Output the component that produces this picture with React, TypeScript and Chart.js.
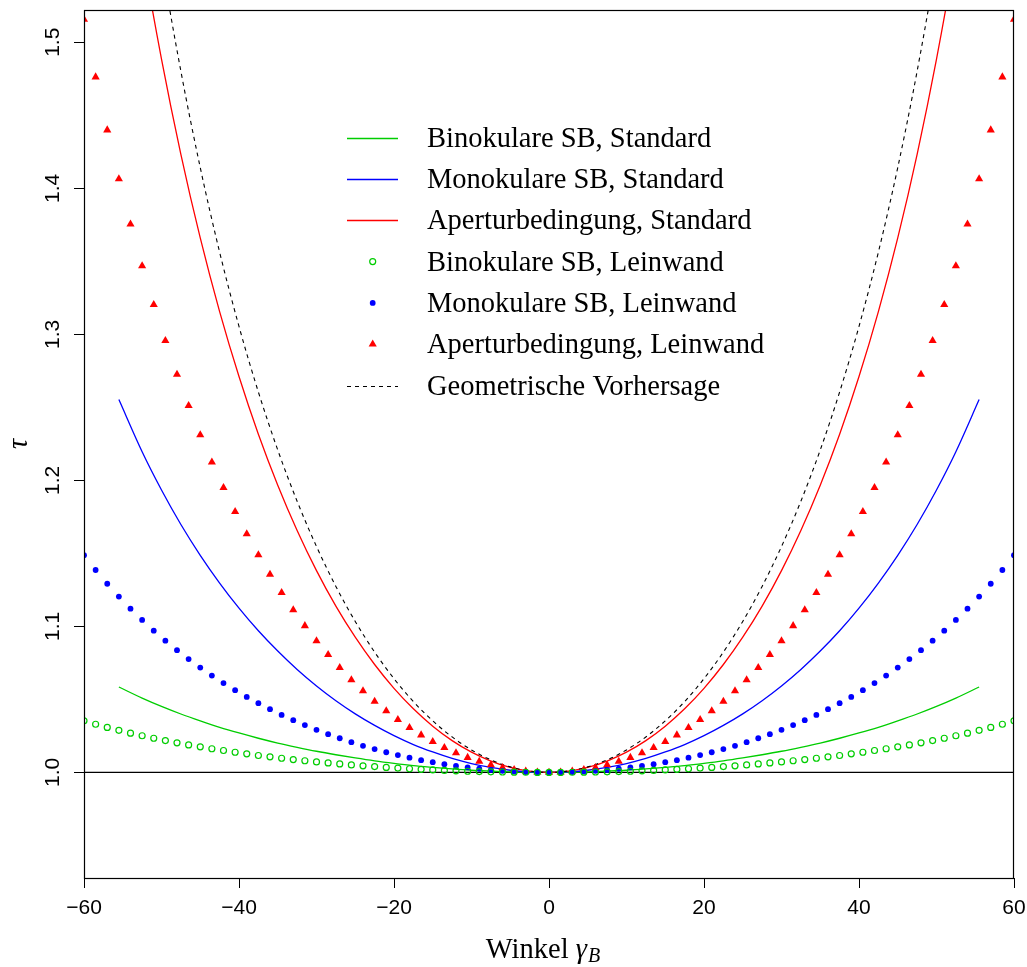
import React, { useEffect, useRef } from 'react';
import { Chart, registerables } from 'chart.js';

Chart.register(...registerables);

// ---------- data ----------
const leinwandX = [
  -60, -58.5, -57, -55.5, -54, -52.5, -51, -49.5, -48, -46.5, -45, -43.5, -42, -40.5, -39, -37.5, -36, -34.5, -33, -31.5,
  -30, -28.5, -27, -25.5, -24, -22.5, -21, -19.5, -18, -16.5, -15, -13.5, -12, -10.5, -9, -7.5, -6, -4.5, -3, -1.5,
  0,
  1.5, 3, 4.5, 6, 7.5, 9, 10.5, 12, 13.5, 15, 16.5, 18, 19.5, 21, 22.5, 24, 25.5, 27, 28.5, 30,
  31.5, 33, 34.5, 36, 37.5, 39, 40.5, 42, 43.5, 45, 46.5, 48, 49.5, 51, 52.5, 54, 55.5, 57, 58.5, 60,
];

const aperturLeinwand = [
  1.5157, 1.4762, 1.4399, 1.4064, 1.3755, 1.3469, 1.3203, 1.2956, 1.2726, 1.2512, 1.2311, 1.2124, 1.195, 1.1786, 1.1633, 1.149, 1.1356, 1.1231, 1.1113, 1.1004,
  1.0901, 1.0806, 1.0717, 1.0634, 1.0558, 1.0486, 1.0421, 1.0361, 1.0306, 1.0256, 1.021, 1.017, 1.0133, 1.0102, 1.0075, 1.0052, 1.0033, 1.0019, 1.0008, 1.0002,
  1.0,
  1.0002, 1.0008, 1.0019, 1.0033, 1.0052, 1.0075, 1.0102, 1.0133, 1.017, 1.021, 1.0256, 1.0306, 1.0361, 1.0421, 1.0486, 1.0558, 1.0634, 1.0717, 1.0806, 1.0901,
  1.1004, 1.1113, 1.1231, 1.1356, 1.149, 1.1633, 1.1786, 1.195, 1.2124, 1.2311, 1.2512, 1.2726, 1.2956, 1.3203, 1.3469, 1.3755, 1.4064, 1.4399, 1.4762, 1.5157,
];

const monoLeinwand = [
  1.1487, 1.1386, 1.1292, 1.1204, 1.1121, 1.1044, 1.0971, 1.0902, 1.0837, 1.0776, 1.0718, 1.0663, 1.0612, 1.0563, 1.0517, 1.0474, 1.0433, 1.0394, 1.0358, 1.0324,
  1.0292, 1.0262, 1.0234, 1.0207, 1.0182, 1.016, 1.0138, 1.0119, 1.0101, 1.0084, 1.007, 1.0056, 1.0044, 1.0034, 1.0025, 1.0017, 1.0011, 1.0006, 1.0003, 1.0001,
  1.0,
  1.0001, 1.0003, 1.0006, 1.0011, 1.0017, 1.0025, 1.0034, 1.0044, 1.0056, 1.007, 1.0084, 1.0101, 1.0119, 1.0138, 1.016, 1.0182, 1.0207, 1.0234, 1.0262, 1.0292,
  1.0324, 1.0358, 1.0394, 1.0433, 1.0474, 1.0517, 1.0563, 1.0612, 1.0663, 1.0718, 1.0776, 1.0837, 1.0902, 1.0971, 1.1044, 1.1121, 1.1204, 1.1292, 1.1386, 1.1487,
];

const binoLeinwand = [
  1.0353, 1.033, 1.0308, 1.0288, 1.0269, 1.0251, 1.0234, 1.0218, 1.0203, 1.0188, 1.0175, 1.0162, 1.015, 1.0138, 1.0127, 1.0116, 1.0107, 1.0097, 1.0088, 1.008,
  1.0072, 1.0065, 1.0058, 1.0051, 1.0045, 1.004, 1.0034, 1.003, 1.0025, 1.0021, 1.0017, 1.0014, 1.0011, 1.0008, 1.0006, 1.0004, 1.0003, 1.0002, 1.0001, 1.0,
  1.0,
  1.0, 1.0001, 1.0002, 1.0003, 1.0004, 1.0006, 1.0008, 1.0011, 1.0014, 1.0017, 1.0021, 1.0025, 1.003, 1.0034, 1.004, 1.0045, 1.0051, 1.0058, 1.0065, 1.0072,
  1.008, 1.0088, 1.0097, 1.0107, 1.0116, 1.0127, 1.0138, 1.015, 1.0162, 1.0175, 1.0188, 1.0203, 1.0218, 1.0234, 1.0251, 1.0269, 1.0288, 1.0308, 1.033, 1.0353,
];

const standardX = [
  -55.5, -52.5, -50, -47.5, -45, -42.5, -40, -37.5, -35, -32.5, -30, -27.5, -25, -22.5, -20, -17.5, -15, -12.5, -10, -7.5, -5, -2.5,
  0,
  2.5, 5, 7.5, 10, 12.5, 15, 17.5, 20, 22.5, 25, 27.5, 30, 32.5, 35, 37.5, 40, 42.5, 45, 47.5, 50, 52.5, 55.5,
];

const binoStandard = [
  1.0585, 1.0509, 1.0452, 1.04, 1.0353, 1.0309, 1.027, 1.0234, 1.0201, 1.0172, 1.0145, 1.0121, 1.0099, 1.0079, 1.0062, 1.0047, 1.0035, 1.0024, 1.0015, 1.0009, 1.0004, 1.0001,
  1.0,
  1.0001, 1.0004, 1.0009, 1.0015, 1.0024, 1.0035, 1.0047, 1.0062, 1.0079, 1.0099, 1.0121, 1.0145, 1.0172, 1.0201, 1.0234, 1.027, 1.0309, 1.0353, 1.04, 1.0452, 1.0509, 1.0585,
];

const monoStandard = [
  1.2553, 1.2196, 1.1934, 1.1698, 1.1487, 1.1297, 1.1125, 1.097, 1.0831, 1.0705, 1.0592, 1.0491, 1.0401, 1.0322, 1.0252, 1.0191, 1.014, 1.0096, 1.0061, 1.0034, 1.0015, 1.0004,
  1.0,
  1.0004, 1.0015, 1.0034, 1.0061, 1.0096, 1.014, 1.0191, 1.0252, 1.0322, 1.0401, 1.0491, 1.0592, 1.0705, 1.0831, 1.097, 1.1125, 1.1297, 1.1487, 1.1698, 1.1934, 1.2196, 1.2553,
];

const aperturStandard = [
  1.668, 1.5631, 1.4885, 1.4233, 1.366, 1.3156, 1.2711, 1.2316, 1.1967, 1.1657, 1.1382, 1.1139, 1.0926, 1.0739, 1.0576, 1.0436, 1.0317, 1.0218, 1.0139, 1.0078, 1.0034, 1.0009,
  1.0,
  1.0009, 1.0034, 1.0078, 1.0139, 1.0218, 1.0317, 1.0436, 1.0576, 1.0739, 1.0926, 1.1139, 1.1382, 1.1657, 1.1967, 1.2316, 1.2711, 1.3156, 1.366, 1.4233, 1.4885, 1.5631, 1.668,
];

const geometrisch = [
  1.7655, 1.6427, 1.5557, 1.4802, 1.4142, 1.3563, 1.3054, 1.2605, 1.2208, 1.1857, 1.1547, 1.1274, 1.1034, 1.0824, 1.0642, 1.0485, 1.0353, 1.0243, 1.0154, 1.0086, 1.0038, 1.001,
  1.0,
  1.001, 1.0038, 1.0086, 1.0154, 1.0243, 1.0353, 1.0485, 1.0642, 1.0824, 1.1034, 1.1274, 1.1547, 1.1857, 1.2208, 1.2605, 1.3054, 1.3563, 1.4142, 1.4802, 1.5557, 1.6427, 1.7655,
];

const referenceX = [-60, 60];
const referenceY = [1, 1];

const seriesLabels = [
  'Binokulare SB, Standard',
  'Monokulare SB, Standard',
  'Aperturbedingung, Standard',
  'Binokulare SB, Leinwand',
  'Monokulare SB, Leinwand',
  'Aperturbedingung, Leinwand',
  'Geometrische Vorhersage',
];

const xTicks = [-60, -40, -20, 0, 20, 40, 60];
const yTicks = [1.0, 1.1, 1.2, 1.3, 1.4, 1.5];
const xTitleWord = 'Winkel';
const xTitleSymbol = 'γ';
const xTitleSub = 'B';
const yTitle = 'τ';

// ---------- styles ----------
const GREEN = '#00CD00';
const BLUE = '#0000FF';
const RED = '#FF0000';
const SERIF = '"Liberation Serif", "Times New Roman", serif';
const SANS = '"Liberation Sans", Arial, Helvetica, sans-serif';
const TEXT_SIZE = 28.5;

const pts = (xs: number[], ys: number[]) => xs.map((x, i) => ({ x, y: ys[i] }));

const legendPlugin = {
  id: 'customLegend',
  afterDatasetsDraw(chart: any) {
    const ctx = chart.ctx;
    const rowY0 = 137.7;
    const rowStep = 41.3;
    const lineX0 = 347;
    const lineX1 = 398;
    const symX = 372.7;
    const textX = 427;
    ctx.save();
    chart.data.datasets.forEach((ds: any, i: number) => {
      if (!ds.label) return;
      const y = rowY0 + rowStep * i;
      ctx.save();
      if (ds.showLine !== false) {
        ctx.beginPath();
        ctx.strokeStyle = ds.borderColor;
        ctx.lineWidth = ds.borderWidth;
        ctx.setLineDash(ds.borderDash || []);
        ctx.moveTo(lineX0, Math.round(y) + 0.5);
        ctx.lineTo(lineX1, Math.round(y) + 0.5);
        ctx.stroke();
      } else {
        const r = ds.pointRadius;
        ctx.beginPath();
        if (ds.pointStyle === 'triangle') {
          for (let k = 0; k < 3; k++) {
            const a = (k * 2 * Math.PI) / 3;
            const px = symX + Math.sin(a) * r;
            const py = y - Math.cos(a) * r;
            if (k === 0) ctx.moveTo(px, py);
            else ctx.lineTo(px, py);
          }
          ctx.closePath();
        } else {
          ctx.arc(symX, y, r, 0, Math.PI * 2);
        }
        if (ds.pointBackgroundColor && ds.pointBackgroundColor !== 'rgba(0,0,0,0)') {
          ctx.fillStyle = ds.pointBackgroundColor;
          ctx.fill();
        }
        if (ds.pointBorderWidth > 0) {
          ctx.strokeStyle = ds.pointBorderColor;
          ctx.lineWidth = ds.pointBorderWidth;
          ctx.stroke();
        }
      }
      ctx.restore();
      ctx.fillStyle = '#000';
      ctx.font = `${TEXT_SIZE}px ${SERIF}`;
      ctx.textAlign = 'left';
      ctx.textBaseline = 'alphabetic';
      ctx.fillText(ds.label, textX, y + 9);
    });
    ctx.restore();
  },
};

const framePlugin = {
  id: 'frameAndTitle',
  afterDraw(chart: any) {
    const ctx = chart.ctx;
    const { left, right, top, bottom } = chart.chartArea;
    ctx.save();
    ctx.strokeStyle = '#000';
    ctx.lineWidth = 1.2;
    ctx.strokeRect(left + 0.5, top + 0.5, right - left - 1, bottom - top);

    // x axis title with subscript
    const fMain = `${TEXT_SIZE}px ${SERIF}`;
    const fIt = `italic ${TEXT_SIZE}px ${SERIF}`;
    const fSub = `italic ${Math.round(TEXT_SIZE * 0.7)}px ${SERIF}`;
    ctx.font = fMain;
    const w1 = ctx.measureText(xTitleWord + ' ').width;
    ctx.font = fIt;
    const w2 = ctx.measureText(xTitleSymbol).width;
    ctx.font = fSub;
    const w3 = ctx.measureText(xTitleSub).width;
    const total = w1 + w2 + 1 + w3;
    let x = (left + right) / 2 - total / 2 - 6;
    const y = 958;
    ctx.fillStyle = '#000';
    ctx.textAlign = 'left';
    ctx.textBaseline = 'alphabetic';
    ctx.font = fMain;
    ctx.fillText(xTitleWord + ' ', x, y);
    x += w1;
    ctx.font = fIt;
    ctx.fillText(xTitleSymbol, x, y);
    x += w2 + 1;
    ctx.font = fSub;
    ctx.fillText(xTitleSub, x, y + 4);
    ctx.restore();
  },
};

export default function App() {
  const ref = useRef<HTMLCanvasElement | null>(null);

  useEffect(() => {
    if (!ref.current) return;
    const chart = new Chart(ref.current, {
      type: 'line',
      data: {
        datasets: [
          {
            label: seriesLabels[0],
            data: pts(standardX, binoStandard),
            borderColor: GREEN,
            borderWidth: 1.3,
            pointRadius: 0,
            cubicInterpolationMode: 'monotone',
            fill: false,
            order: 8,
            clip: 0,
          },
          {
            label: seriesLabels[1],
            data: pts(standardX, monoStandard),
            borderColor: BLUE,
            borderWidth: 1.3,
            pointRadius: 0,
            cubicInterpolationMode: 'monotone',
            fill: false,
            order: 7,
            clip: 0,
          },
          {
            label: seriesLabels[2],
            data: pts(standardX, aperturStandard),
            borderColor: RED,
            borderWidth: 1.3,
            pointRadius: 0,
            cubicInterpolationMode: 'monotone',
            fill: false,
            order: 6,
            clip: 0,
          },
          {
            label: seriesLabels[3],
            data: pts(leinwandX, binoLeinwand),
            showLine: false,
            pointStyle: 'circle',
            pointRadius: 3,
            pointBackgroundColor: 'rgba(0,0,0,0)',
            pointBorderColor: GREEN,
            pointBorderWidth: 1.2,
            borderColor: GREEN,
            order: 1,
            clip: 0,
          },
          {
            label: seriesLabels[4],
            data: pts(leinwandX, monoLeinwand),
            showLine: false,
            pointStyle: 'circle',
            pointRadius: 2.9,
            pointBackgroundColor: BLUE,
            pointBorderColor: BLUE,
            pointBorderWidth: 0,
            borderColor: BLUE,
            order: 2,
            clip: 0,
          },
          {
            label: seriesLabels[5],
            data: pts(leinwandX, aperturLeinwand),
            showLine: false,
            pointStyle: 'triangle',
            pointRadius: 4.7,
            pointBackgroundColor: RED,
            pointBorderColor: RED,
            pointBorderWidth: 0,
            borderColor: RED,
            order: 3,
            clip: 0,
          },
          {
            label: seriesLabels[6],
            data: pts(standardX, geometrisch),
            borderColor: '#000',
            borderWidth: 1.1,
            borderDash: [4, 4],
            pointRadius: 0,
            cubicInterpolationMode: 'monotone',
            fill: false,
            order: 5,
            clip: 0,
          },
          {
            label: '',
            data: pts(referenceX, referenceY),
            borderColor: '#000',
            borderWidth: 1.1,
            pointRadius: 0,
            fill: false,
            order: 9,
            clip: 0,
          },
        ],
      } as any,
      options: {
        responsive: false,
        maintainAspectRatio: false,
        animation: false,
        events: [],
        layout: { padding: { left: 0, right: 13, top: 10, bottom: 0 } },
        plugins: {
          legend: { display: false },
          tooltip: { enabled: false },
        },
        scales: {
          x: {
            type: 'linear',
            min: xTicks[0],
            max: xTicks[xTicks.length - 1],
            afterFit: (s: any) => {
              s.height = 89;
              s.paddingLeft = 0;
              s.paddingRight = 0;
            },
            afterBuildTicks: (s: any) => {
              s.ticks = xTicks.map((v) => ({ value: v }));
            },
            grid: { drawOnChartArea: false, drawTicks: true, tickLength: 10, color: '#000', lineWidth: 1 },
            border: { display: false },
            ticks: {
              color: '#000',
              font: { family: SANS, size: 21 },
              padding: 8,
              maxRotation: 0,
              callback: (v: any) => (v < 0 ? '\u2212' + Math.abs(v) : String(v)),
            },
            title: { display: false },
          },
          y: {
            type: 'linear',
            min: 0.9277,
            max: 1.5221,
            afterFit: (s: any) => {
              s.width = 84;
              s.paddingTop = 0;
              s.paddingBottom = 0;
            },
            afterBuildTicks: (s: any) => {
              s.ticks = yTicks.map((v) => ({ value: v }));
            },
            grid: { drawOnChartArea: false, drawTicks: true, tickLength: 10, color: '#000', lineWidth: 1 },
            border: { display: false },
            ticks: {
              color: '#000',
              font: { family: SANS, size: 21 },
              padding: 6,
              minRotation: 90,
              maxRotation: 90,
              crossAlign: 'center',
              callback: (v: any) => Number(v).toFixed(1),
            },
            title: {
              display: true,
              text: yTitle,
              color: '#000',
              font: { family: SERIF, size: TEXT_SIZE, style: 'italic' },
              padding: { top: 2, bottom: 0 },
            },
          },
        },
      } as any,
      plugins: [legendPlugin, framePlugin],
    });
    return () => chart.destroy();
  }, []);

  return (
    <div style={{ position: 'absolute', left: 0, top: 0, width: 1027, height: 967, background: '#fff' }}>
      <canvas ref={ref} width={1027} height={967} style={{ display: 'block' }} />
    </div>
  );
}
